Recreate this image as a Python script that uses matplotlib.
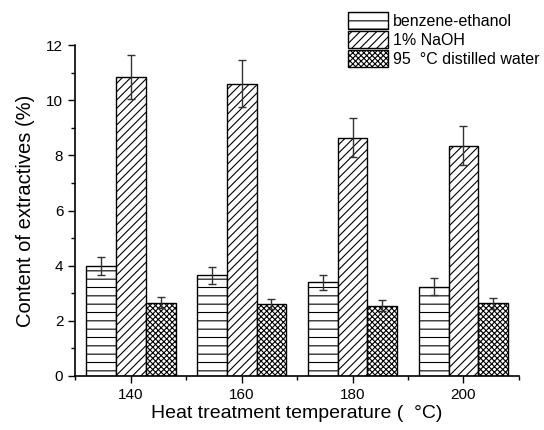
import numpy as np
import matplotlib
matplotlib.use("Agg")
import matplotlib.pyplot as plt
from matplotlib.ticker import MultipleLocator

plt.rcParams['font.family'] = ['Liberation Sans', 'DejaVu Sans']
plt.rcParams['hatch.linewidth'] = 0.8

temps = ["140", "160", "180", "200"]
benzene = [4.0, 3.65, 3.4, 3.24]
benzene_err = [0.32, 0.3, 0.28, 0.3]
naoh = [10.85, 10.6, 8.65, 8.36]
naoh_err = [0.8, 0.85, 0.72, 0.72]
water = [2.65, 2.6, 2.55, 2.63]
water_err = [0.2, 0.18, 0.2, 0.19]

fig = plt.figure(figsize=(5.44, 4.30), dpi=100)
ax = fig.add_axes([0.138, 0.1256, 0.816, 0.7694])

x = np.arange(len(temps))
w = 0.27
ekw = dict(ecolor="#333333", elinewidth=1, capsize=3, capthick=1)
ax.bar(x - w, benzene, w, yerr=benzene_err, color="white", edgecolor="black",
       hatch="--", linewidth=1, label="benzene-ethanol", error_kw=ekw)
ax.bar(x, naoh, w, yerr=naoh_err, color="white", edgecolor="black",
       hatch="////", linewidth=1, label="1% NaOH", error_kw=ekw)
ax.bar(x + w, water, w, yerr=water_err, color="white", edgecolor="black",
       hatch="xxxxxx", linewidth=1, label="95  \u00b0C distilled water", error_kw=ekw)

ax.set_xlim(-0.5, 3.5)
ax.set_ylim(0, 12)
ax.set_xticks(x)
ax.set_xticklabels(temps)
ax.xaxis.set_minor_locator(MultipleLocator(0.5))
ax.yaxis.set_major_locator(MultipleLocator(2))
ax.yaxis.set_minor_locator(MultipleLocator(1))
ax.tick_params(which='major', length=5, width=1, labelsize=11)
ax.tick_params(which='minor', length=3, width=1)
ax.spines['top'].set_visible(False)
ax.spines['right'].set_visible(False)
ax.spines['left'].set_linewidth(1.2)
ax.spines['bottom'].set_linewidth(1.2)

ax.set_xlabel("Heat treatment temperature (  \u00b0C)", fontsize=14, labelpad=2)
ax.set_ylabel("Content of extractives (%)", fontsize=14.5, labelpad=8)

ax.legend(loc="upper left", bbox_to_anchor=(0.6, 1.12), frameon=False,
          fontsize=11.5, handlelength=2.5, handleheight=1.3,
          handletextpad=0.35, labelspacing=0.1, borderaxespad=0)

fig.savefig("out.png", dpi=100)
